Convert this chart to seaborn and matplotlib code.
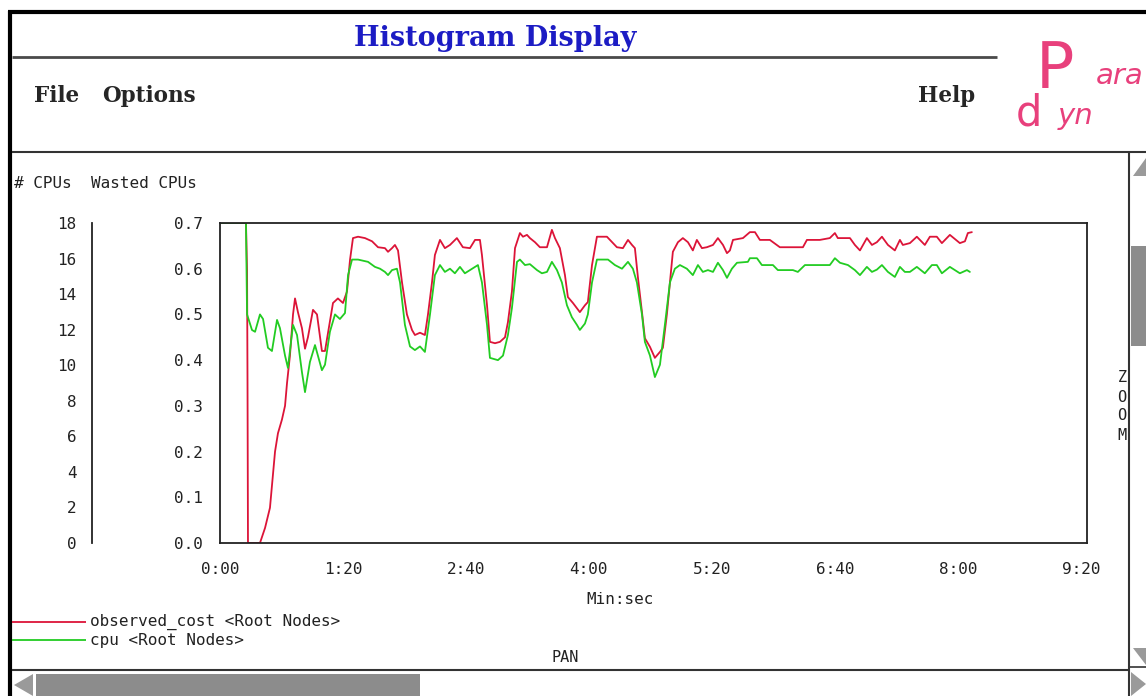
import numpy as np
import pandas as pd
import matplotlib
matplotlib.use("Agg")
import matplotlib.pyplot as plt
import seaborn as sns
from matplotlib.ticker import FuncFormatter, MultipleLocator
from matplotlib.patches import Rectangle, Polygon
from matplotlib.lines import Line2D

# ---------------- data ----------------
series_names = ["observed_cost <Root Nodes>", "cpu <Root Nodes>"]
series_colors = ["#dc1438", "#22cc22"]

cost_time = [0, 16.9, 17.6, 17.9, 18.2, 26.0, 29.3, 32.5, 35.8, 37.7, 40.3, 42.3, 43.6, 45.5,
             47.5, 48.8, 50.7, 53.3, 55.3, 57.2, 60.5, 63.1, 66.3, 68.3, 71.5, 73.5, 76.7, 80.0,
             82.6, 84.6, 86.5, 89.8, 94.3, 98.9, 102.8, 107.3, 109.3, 111.9, 113.8, 115.8, 118.4,
             121.6, 124.9, 126.8, 130.1, 133.3, 135.3, 137.9, 139.8, 143.1, 146.3, 149.6, 154.1,
             158.0, 162.6, 165.9, 169.1, 170.4, 173.7, 175.6, 178.9, 182.1, 185.4, 187.3, 189.9,
             191.9, 195.1, 197.1, 199.7, 201.6, 204.9, 208.1, 212.7, 215.9, 217.9, 221.1, 224.4,
             226.3, 229.6, 234.1, 237.4, 239.3, 242.0, 245.2, 251.7, 253.7, 258.2, 262.1, 265.4,
             268.0, 269.9, 271.9, 274.5, 276.4, 279.7, 282.9, 286.2, 288.1, 290.7, 292.7, 294.6,
             297.9, 301.1, 304.4, 307.6, 310.2, 313.5, 316.7, 320.7, 323.9, 327.2, 329.8, 331.7,
             333.7, 340.2, 344.7, 348.0, 351.2, 357.7, 364.2, 379.2, 381.8, 390.2, 396.7, 400.0,
             401.9, 409.8, 413.0, 416.3, 420.8, 424.1, 427.3, 430.6, 434.5, 439.0, 442.3, 444.2,
             448.8, 453.3, 458.5, 461.8, 466.3, 469.6, 474.8, 481.3, 484.6, 486.5, 489.1]
cost_value = [0.70, 0.70, 0.597, 0.35, 0.0, 0.0, 0.033, 0.077, 0.20, 0.24, 0.27, 0.30, 0.35, 0.41,
              0.50, 0.535, 0.505, 0.47, 0.425, 0.45, 0.51, 0.50, 0.42, 0.42, 0.485, 0.525, 0.535, 0.525,
              0.55, 0.62, 0.667, 0.67, 0.667, 0.66, 0.647, 0.645, 0.637, 0.645, 0.652, 0.64, 0.57,
              0.50, 0.466, 0.455, 0.46, 0.455, 0.50, 0.57, 0.63, 0.663, 0.645, 0.652, 0.667,
              0.647, 0.645, 0.663, 0.663, 0.63, 0.52, 0.44, 0.437, 0.44, 0.45, 0.483, 0.55,
              0.645, 0.678, 0.67, 0.674, 0.667, 0.658, 0.647, 0.647, 0.685, 0.667, 0.645, 0.586,
              0.538, 0.525, 0.505, 0.52, 0.527, 0.608, 0.67, 0.67, 0.663, 0.647, 0.645, 0.663,
              0.652, 0.645, 0.58, 0.505, 0.448, 0.429, 0.405, 0.418, 0.427, 0.50, 0.57, 0.637,
              0.658, 0.667, 0.658, 0.64, 0.663, 0.645, 0.647, 0.652, 0.667, 0.652, 0.634, 0.64,
              0.663, 0.667, 0.68, 0.68, 0.663, 0.663, 0.647, 0.647, 0.663, 0.663, 0.667, 0.678,
              0.667, 0.667, 0.652, 0.64, 0.667, 0.652, 0.658, 0.67, 0.652, 0.64, 0.663, 0.652,
              0.656, 0.67, 0.652, 0.67, 0.67, 0.656, 0.674, 0.656, 0.66, 0.678, 0.68]

cpu_time = [0, 16.9, 17.6, 20.8, 22.8, 26.0, 28.0, 31.2, 33.8, 37.1, 39.0, 42.3, 44.2, 47.5, 50.1,
            53.3, 55.3, 58.5, 61.8, 63.7, 66.3, 68.3, 71.5, 74.8, 78.0, 81.3, 83.3, 85.9, 89.8,
            96.3, 100.8, 104.1, 107.3, 109.3, 111.9, 115.1, 117.1, 120.3, 123.6, 126.8, 130.1,
            133.3, 136.6, 139.8, 143.1, 146.3, 149.6, 152.8, 156.1, 159.3, 162.6, 167.8, 170.4,
            173.7, 175.6, 180.8, 184.1, 187.3, 189.9, 193.2, 195.1, 198.4, 201.6, 206.2, 209.4,
            212.7, 215.9, 219.2, 222.4, 225.7, 228.9, 232.2, 234.1, 237.4, 239.3, 242.0, 245.2,
            252.4, 256.9, 261.5, 265.4, 268.6, 271.2, 274.5, 276.4, 279.7, 282.9, 286.2, 289.4,
            292.7, 295.9, 299.2, 303.7, 307.6, 310.9, 314.1, 317.4, 320.7, 323.9, 327.2, 329.8,
            333.0, 336.3, 343.4, 344.7, 349.3, 352.5, 359.7, 362.9, 372.7, 375.9, 380.5, 396.7,
            400.0, 403.3, 408.5, 413.0, 416.3, 420.8, 424.1, 427.3, 430.6, 434.5, 439.0, 442.3,
            445.5, 448.8, 453.3, 458.5, 463.1, 466.3, 469.6, 474.8, 481.3, 485.9, 487.8]
cpu_value = [0.70, 0.70, 0.50, 0.466, 0.462, 0.50, 0.49, 0.427, 0.42, 0.488, 0.47, 0.41, 0.383, 0.477, 0.455,
             0.374, 0.33, 0.396, 0.433, 0.41, 0.378, 0.39, 0.462, 0.50, 0.49, 0.503, 0.586, 0.62, 0.62,
             0.615, 0.604, 0.60, 0.593, 0.586, 0.597, 0.60, 0.57, 0.477, 0.43, 0.422, 0.43,
             0.418, 0.50, 0.586, 0.608, 0.593, 0.60, 0.59, 0.604, 0.59, 0.597, 0.608, 0.57,
             0.477, 0.405, 0.40, 0.41, 0.455, 0.514, 0.615, 0.62, 0.608, 0.61, 0.597, 0.59,
             0.593, 0.615, 0.597, 0.57, 0.52, 0.494, 0.477, 0.466, 0.48, 0.50, 0.57, 0.62,
             0.62, 0.608, 0.60, 0.615, 0.60, 0.57, 0.50, 0.44, 0.41, 0.363, 0.39, 0.477,
             0.57, 0.60, 0.608, 0.60, 0.586, 0.608, 0.593, 0.597, 0.593, 0.613, 0.597, 0.58,
             0.60, 0.613, 0.615, 0.623, 0.623, 0.608, 0.608, 0.597, 0.597, 0.593, 0.608, 0.608,
             0.623, 0.613, 0.608, 0.597, 0.586, 0.604, 0.593, 0.598, 0.608, 0.593, 0.582, 0.604,
             0.593, 0.593, 0.604, 0.59, 0.608, 0.608, 0.59, 0.604, 0.59, 0.597, 0.593]

x_ticks = [0, 80, 160, 240, 320, 400, 480, 560]
left_ticks = [0, 2, 4, 6, 8, 10, 12, 14, 16, 18]
right_ticks = [0.0, 0.1, 0.2, 0.3, 0.4, 0.5, 0.6, 0.7]

# ---------------- figure ----------------
sns.set_style("white")
MONO = ["DejaVu Sans Mono"]
plt.rcParams["font.family"] = MONO

W, H = 1146, 696
fig = plt.figure(figsize=(W / 100, H / 100), dpi=100)
fig.patch.set_facecolor("white")

# overlay for window chrome (pixel coordinates)
ov = fig.add_axes([0, 0, 1, 1], zorder=0)
ov.set_xlim(0, W)
ov.set_ylim(H, 0)
ov.axis("off")
ov.patch.set_alpha(0)

def hline(y, x0, x1, lw=1.5, c="black"):
    ov.add_line(Line2D([x0, x1], [y, y], lw=lw, color=c, solid_capstyle="butt"))

def vline(x, y0, y1, lw=1.5, c="black"):
    ov.add_line(Line2D([x, x], [y0, y1], lw=lw, color=c, solid_capstyle="butt"))

hline(12, 8, W, lw=3)
vline(10, 11, H, lw=3)
hline(57, 12, 997, lw=2, c="#4a4a4a")
hline(152, 12, W, lw=1.5, c="#333333")
hline(670, 12, 1129, lw=1.5, c="#333333")
vline(1129, 152, 696, lw=1.5, c="#333333")
hline(667, 1129, W, lw=1.2, c="#333333")

ov.text(495, 38, "Histogram Display", family="DejaVu Serif", weight="bold",
        fontsize=19.5, color="#1c1cc4", ha="center", va="center")
ov.text(34, 96, "File", family="DejaVu Serif", weight="bold", fontsize=15.5, ha="left", va="center")
ov.text(102, 96, "Options", family="DejaVu Serif", weight="bold", fontsize=15.5, ha="left", va="center")
ov.text(918, 96, "Help", family="DejaVu Serif", weight="bold", fontsize=15.5, ha="left", va="center")

# Paradyn logo
pink = "#e8407c"
ov.text(1036, 88, "P", family="DejaVu Sans", fontsize=46, color=pink, ha="left", va="baseline")
ov.text(1096, 84, "ara", family="DejaVu Sans", style="italic", fontsize=21, color=pink, ha="left", va="baseline")
ov.text(1016, 126, "d", family="DejaVu Sans", fontsize=30, color=pink, ha="left", va="baseline")
ov.text(1058, 124, "yn", family="DejaVu Sans", style="italic", fontsize=21, color=pink, ha="left", va="baseline")

# scrollbars
ov.add_patch(Rectangle((1131, 246), 15, 100, facecolor="#8c8c8c", edgecolor="none"))
ov.add_patch(Polygon([[1133, 176], [1146, 176], [1146, 158]], closed=True, facecolor="#9a9a9a", edgecolor="none"))
ov.add_patch(Polygon([[1133, 648], [1146, 648], [1146, 665]], closed=True, facecolor="#9a9a9a", edgecolor="none"))
ov.add_patch(Polygon([[1131, 672], [1146, 684], [1131, 696]], closed=True, facecolor="#9a9a9a", edgecolor="none"))
ov.add_patch(Polygon([[14, 685], [33, 674], [33, 696]], closed=True, facecolor="#9a9a9a", edgecolor="none"))
ov.add_patch(Rectangle((36, 674), 384, 22, facecolor="#8c8c8c", edgecolor="none"))

for i, ch in enumerate("ZOOM"):
    ov.text(1122, 378 + i * 19, ch, fontsize=11, ha="center", va="center", color="#222222")
ov.text(565, 657, "PAN", fontsize=11, ha="center", va="center", color="#222222")
ov.text(14, 184, "# CPUs  Wasted CPUs", fontsize=11.5, ha="left", va="center", color="#222222")

# legend (drawn with series names/colors)
for i, (name, col) in enumerate(zip(series_names, series_colors)):
    yy = 622 + 18 * i
    hline(yy, 12, 86, lw=1.3, c=col)
    ov.text(90, yy, name, fontsize=11.5, ha="left", va="center", color="#222222")

# ---------------- main axes ----------------
L, R, T, B = 220, 1087, 223, 543
ax = fig.add_axes([L / W, 1 - B / H, (R - L) / W, (B - T) / H], zorder=2)
ax.patch.set_alpha(0)

df_cost = pd.DataFrame({"t": cost_time, "v": cost_value})
df_cpu = pd.DataFrame({"t": cpu_time, "v": cpu_value})
sns.lineplot(data=df_cost, x="t", y="v", ax=ax, color=series_colors[0], lw=1.3,
             estimator=None, sort=False)
sns.lineplot(data=df_cpu, x="t", y="v", ax=ax, color=series_colors[1], lw=1.3,
             estimator=None, sort=False)

ax.set_xlim(0, 564)
ax.set_ylim(0, 0.7)
ax.set_xticks(x_ticks)
ax.set_yticks(right_ticks)
ax.xaxis.set_major_formatter(FuncFormatter(lambda v, p: f"{int(v) // 60}:{int(v) % 60:02d}"))
ax.yaxis.set_major_formatter(FuncFormatter(lambda v, p: f"{v:.1f}"))
for s in ax.spines.values():
    s.set_color("#222222")
    s.set_linewidth(1.3)
ax.tick_params(axis="both", direction="out", length=6, width=1.1, color="#222222",
               labelsize=11.5, labelcolor="#222222")
ax.tick_params(axis="y", pad=6)
ax.tick_params(axis="x", pad=8)
ax.set_xlabel("Min:sec", fontsize=11.5, color="#222222")
ax.xaxis.set_label_coords((620 - L) / (R - L), -(599 - B) / (B - T), transform=ax.transAxes)
ax.xaxis.label.set_va("center")
ax.set_ylabel("")
ax.grid(False)

# ---------------- left (# CPUs) axis ----------------
axl = fig.add_axes([92 / W, 1 - B / H, 0.0005, (B - T) / H], zorder=2)
axl.patch.set_alpha(0)
axl.set_ylim(0, 18)
axl.set_yticks(left_ticks)
axl.set_xticks([])
for k in ["top", "right", "bottom"]:
    axl.spines[k].set_visible(False)
axl.spines["left"].set_color("#222222")
axl.spines["left"].set_linewidth(1.3)
axl.tick_params(axis="y", direction="out", length=6, width=1.1, color="#222222",
                labelsize=11.5, labelcolor="#222222", pad=5)

fig.savefig("out.png", dpi=100, facecolor="white")
